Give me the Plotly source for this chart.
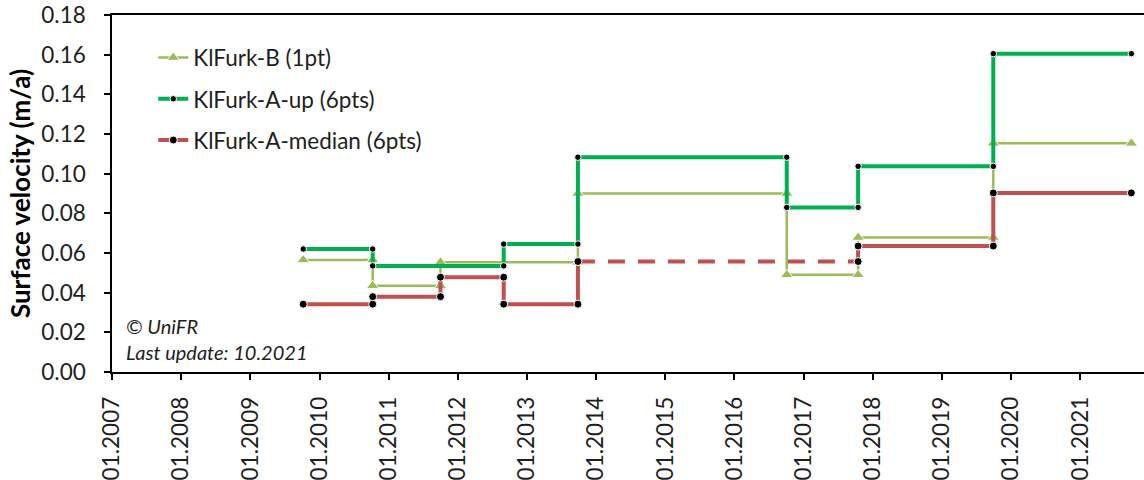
import plotly.graph_objects as go

# Survey epochs (dates of the annual campaigns)
epochs = ["2009-10-07", "2010-10-09", "2011-10-02", "2012-08-31", "2013-09-27",
          "2016-10-04", "2017-10-16", "2019-09-30", "2021-09-28"]

# KlFurk-B (1 point): breakpoints and velocity of each interval (m/a)
b_dates = [epochs[i] for i in (0, 1, 2, 4, 5, 6, 7, 8)]
b_vel = [0.0565, 0.0435, 0.0553, 0.0900, 0.0490, 0.0678, 0.1153]

# KlFurk-A upper value (6 points)
up_dates = [epochs[i] for i in (0, 1, 3, 4, 5, 6, 7, 8)]
up_vel = [0.0620, 0.0535, 0.0645, 0.1083, 0.0830, 0.1037, 0.1605]

# KlFurk-A median (6 points); interval 4 has no direct measurement (dashed)
med_dates = [epochs[i] for i in (0, 1, 2, 3, 4, 6, 7, 8)]
med_vel = [0.0342, 0.0380, 0.0478, 0.0342, 0.0557, 0.0635, 0.0903]
med_gap_interval = 4

years = list(range(2007, 2022))
year_ticks = [f"{y}-01-01" for y in years]
year_labels = [f"01.{y}" for y in years]

C_B = "#9BBB59"
C_UP = "#00B050"
C_MED = "#C0504D"
FONT = "Lato"
TXT = "#1e1e1e"


def steps(dates, vals):
    """Vertices of a step line: each interval drawn from its start to its end."""
    xs, ys = [], []
    for i, v in enumerate(vals):
        xs += [dates[i], dates[i + 1]]
        ys += [v, v]
    return xs, ys


fig = go.Figure()

bx, by = steps(b_dates, b_vel)
fig.add_trace(go.Scatter(
    x=bx, y=by, mode="lines+markers", name="KlFurk-B (1pt)",
    line=dict(color=C_B, width=2.5),
    marker=dict(symbol="triangle-up", size=11, color=C_B, line=dict(color="white", width=1)),
    legendgroup="b", legendrank=1,
))

# median: split so the unmeasured interval can be dashed
mx, my = steps(med_dates, med_vel)
k = 2 * med_gap_interval
parts = [
    (mx[:k + 1], my[:k + 1], "solid", True),
    (mx[k:k + 2], my[k:k + 2], "17px,13px", False),
    (mx[k + 1:], my[k + 1:], "solid", False),
]
for px, py, dash, show in parts:
    fig.add_trace(go.Scatter(
        x=px, y=py, mode="lines+markers", name="KlFurk-A-median (6pts)",
        line=dict(color=C_MED, width=4, dash=dash),
        marker=dict(symbol="circle", size=8, color="black", line=dict(color="white", width=1)),
        legendgroup="med", legendrank=3, showlegend=show,
    ))

ux, uy = steps(up_dates, up_vel)
fig.add_trace(go.Scatter(
    x=ux, y=uy, mode="lines+markers", name="KlFurk-A-up (6pts)",
    line=dict(color=C_UP, width=4),
    marker=dict(symbol="circle", size=6.5, color="black", line=dict(color="white", width=1)),
    legendgroup="up", legendrank=2,
))

fig.add_annotation(x=0, y=0, xref="paper", yref="paper", xanchor="left", yanchor="bottom",
                   xshift=12, yshift=6, align="left", showarrow=False,
                   text="<i>© UniFR</i><br><i>Last update: 10.2021</i>",
                   font=dict(family=FONT, size=20, color=TXT))

fig.update_layout(
    width=1144, height=480,
    margin=dict(l=112, r=0, t=15, b=105),
    paper_bgcolor="white", plot_bgcolor="white",
    font=dict(family=FONT, size=22, color=TXT),
    legend=dict(x=0.04, y=0.94, xanchor="left", yanchor="top",
                traceorder="grouped", tracegroupgap=9,
                bgcolor="rgba(0,0,0,0)", font=dict(family=FONT, size=22.5, color=TXT)),
)

fig.update_xaxes(
    type="date", range=["2007-01-01", "2021-12-04"],
    tickvals=year_ticks, ticktext=year_labels, tickangle=-90,
    tickfont=dict(size=22.5),
    ticks="outside", ticklen=6, tickcolor="black", tickwidth=1.5,
    showline=True, linecolor="black", linewidth=1.5, mirror=True,
    showgrid=False, zeroline=False, ticklabelstandoff=8,
)
fig.update_yaxes(
    range=[0, 0.18], dtick=0.02, tickformat=".2f",
    tickfont=dict(size=22.5),
    ticks="outside", ticklen=6, tickcolor="black", tickwidth=1.5,
    showline=True, linecolor="black", linewidth=1.5,
    showgrid=False, zeroline=False, ticklabelstandoff=14,
    title=dict(text="<b>Surface velocity (m/a)</b>", standoff=3,
               font=dict(family=FONT, size=26, color="black")),
)

fig.write_html("out.html")
